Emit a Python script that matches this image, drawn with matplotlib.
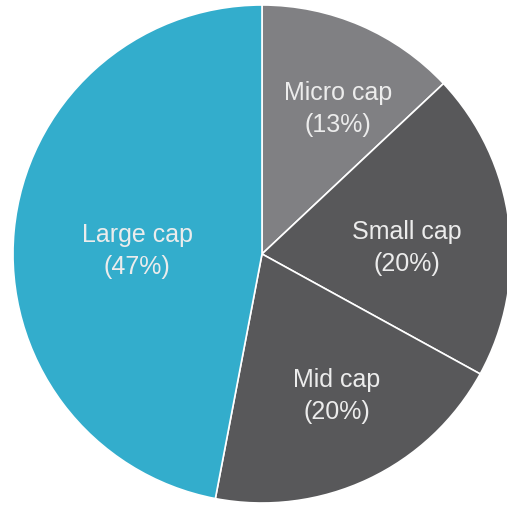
import matplotlib
matplotlib.use("Agg")
import matplotlib.pyplot as plt

# Market-cap breakdown
categories = ["Micro cap", "Small cap", "Mid cap", "Large cap"]
shares = [13, 20, 20, 47]
colors = ["#808083", "#58585a", "#58585a", "#33adcc"]

# label anchor points (pie units, centre = 0,0)
label_xy = [(0.305, 0.585), (0.582, 0.028), (0.301, -0.566), (-0.502, 0.016)]

fig = plt.figure(figsize=(5.07, 5.06), dpi=100)
ax = fig.add_axes([0, 0, 1, 1])

ax.pie(shares, colors=colors, startangle=90, counterclock=False,
       radius=1.0, center=(0, 0),
       wedgeprops=dict(edgecolor="white", linewidth=1.2))

for name, val, (x, y) in zip(categories, shares, label_xy):
    ax.text(x, y, f"{name}\n({val}%)", ha="center", va="center",
            color="#ececec", fontsize=18, family="Liberation Sans",
            linespacing=1.42)

ax.set_xlim(-262 / 249, (507 - 262) / 249)
ax.set_ylim(-(506 - 255) / 249, 255 / 249)
ax.set_aspect("auto")
ax.axis("off")

fig.savefig("out.png", dpi=100, facecolor="white")
